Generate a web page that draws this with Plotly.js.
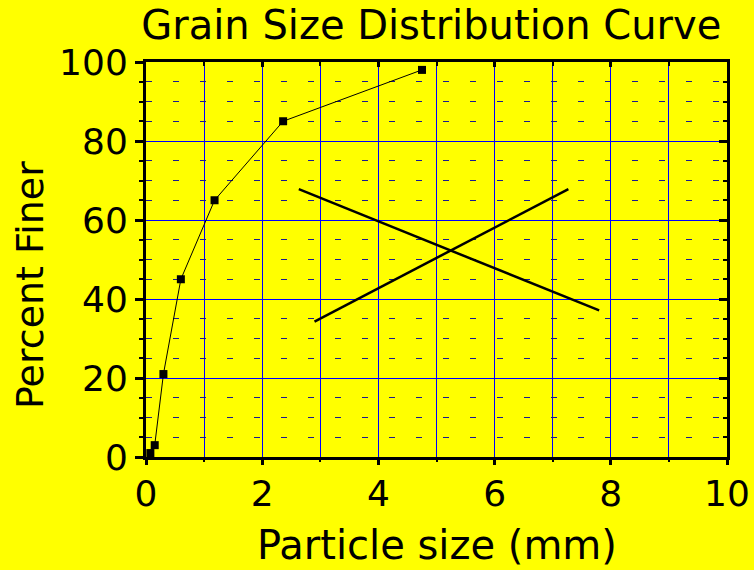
<!DOCTYPE html>
<html>
<head>
<meta charset="utf-8">
<script src="https://cdn.plot.ly/plotly-3.0.1.min.js"></script>
<style>html,body{margin:0;padding:0;background:#ffff00;}#chart{width:754px;height:570px;}</style>
</head>
<body>
<div id="chart"></div>
<script>
// Sieve data
const particleSize = [0.075, 0.15, 0.3, 0.6, 1.18, 2.36, 4.75];
const percentFiner = [1, 3, 21, 45, 65, 85, 98];
// Cross-out strokes (two lines forming an X)
const crossAx = [2.63, 7.80];
const crossAy = [67.8, 37.1];
const crossBx = [2.90, 7.27];
const crossBy = [34.3, 67.8];

const xTickVals = [0, 2, 4, 6, 8, 10];
const yTickVals = [0, 20, 40, 60, 80, 100];

const FONT = 'DejaVu Sans, Liberation Sans, Arial, sans-serif';

const traces = [
  {x: particleSize, y: percentFiner, type: 'scatter', mode: 'lines+markers',
   line: {color: '#000000', width: 1},
   marker: {symbol: 'square', size: 8, color: '#000000'},
   cliponaxis: false, showlegend: false, hoverinfo: 'x+y'},
  {x: crossAx, y: crossAy, type: 'scatter', mode: 'lines',
   line: {color: '#000000', width: 2.5}, showlegend: false},
  {x: crossBx, y: crossBy, type: 'scatter', mode: 'lines',
   line: {color: '#000000', width: 2.5}, showlegend: false},
  {x: [], y: [], xaxis: 'x2', yaxis: 'y2', type: 'scatter', mode: 'markers', showlegend: false},
  {x: [], y: [], xaxis: 'x3', yaxis: 'y', type: 'scatter', mode: 'markers', showlegend: false}
];

const layout = {
  width: 754, height: 570,
  paper_bgcolor: '#ffff00', plot_bgcolor: '#ffff00',
  margin: {l: 146, r: 27, t: 62, b: 113, pad: 0},
  showlegend: false,
  title: {text: 'Grain Size Distribution Curve', font: {family: FONT, size: 40, color: '#000'},
          xref: 'container', x: 0.572, xanchor: 'center', yref: 'container', y: 0.956, yanchor: 'middle'},
  xaxis: {range: [0, 10], tickvals: xTickVals, ticktext: xTickVals.map(String),
          ticks: '', ticklabelstandoff: 3,
          showline: true, linecolor: '#000', linewidth: 3, mirror: true,
          showgrid: true, gridcolor: '#0000ff', gridwidth: 1, zeroline: false,
          tickfont: {family: FONT, size: 36, color: '#000'},
          minor: {dtick: 1, tick0: 0, ticks: '', showgrid: true, gridcolor: '#0000ff', gridwidth: 1}},
  xaxis3: {range: [0, 10], overlaying: 'x', side: 'bottom', anchor: 'y', tickvals: xTickVals,
           showticklabels: false, ticks: 'outside', ticklen: 7, tickwidth: 3, tickcolor: '#000',
           showgrid: false, zeroline: false, showline: false,
           minor: {dtick: 1, tick0: 0, ticks: 'outside', ticklen: 4, tickwidth: 2, tickcolor: '#000', showgrid: false}},
  yaxis: {range: [0, 100], tickvals: yTickVals, ticktext: yTickVals.map(String),
          ticks: 'outside', ticklen: 8, tickwidth: 3, tickcolor: '#000',
          showline: true, linecolor: '#000', linewidth: 3, mirror: true,
          showgrid: true, gridcolor: '#0000ff', gridwidth: 1, zeroline: false,
          tickfont: {family: FONT, size: 36, color: '#000'},
          minor: {dtick: 5, tick0: 0, ticks: 'outside', ticklen: 4, tickwidth: 2, tickcolor: '#000',
                  showgrid: true, gridcolor: '#1a1a90', gridwidth: 1, griddash: '6px,21px'}},
  xaxis2: {range: [0, 10], overlaying: 'x', side: 'top', anchor: 'y2', tickvals: xTickVals,
           showticklabels: false, ticks: 'inside', ticklen: 5, tickwidth: 3, tickcolor: '#000',
           showgrid: false, zeroline: false, showline: false,
           minor: {dtick: 1, tick0: 0, ticks: 'inside', ticklen: 4, tickwidth: 2, tickcolor: '#000', showgrid: false}},
  yaxis2: {range: [0, 100], overlaying: 'y', side: 'right', anchor: 'x2', tickvals: yTickVals,
           showticklabels: false, ticks: 'inside', ticklen: 8, tickwidth: 3, tickcolor: '#000',
           showgrid: false, zeroline: false, showline: false,
           minor: {dtick: 5, tick0: 0, ticks: 'inside', ticklen: 4, tickwidth: 2, tickcolor: '#000', showgrid: false}},
  annotations: [
    {text: 'Particle size (mm)', xref: 'paper', yref: 'paper', x: 0.5, y: -0.2228,
     xanchor: 'center', yanchor: 'middle', showarrow: false,
     font: {family: FONT, size: 40, color: '#000'}},
    {text: 'Percent Finer', xref: 'paper', yref: 'paper', x: -0.1997, y: 0.4354,
     xanchor: 'center', yanchor: 'middle', textangle: -90, showarrow: false,
     font: {family: FONT, size: 38, color: '#000'}}
  ]
};

Plotly.newPlot('chart', traces, layout, {staticPlot: true, displayModeBar: false});
</script>
</body>
</html>
